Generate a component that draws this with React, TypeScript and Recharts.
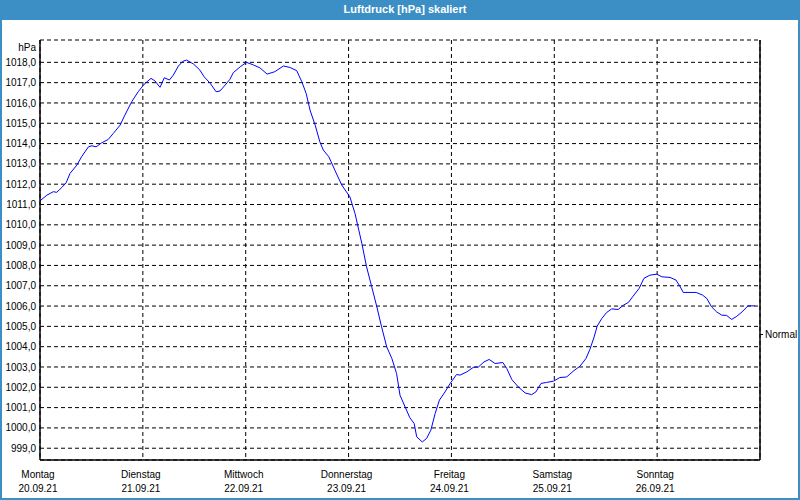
import { LineChart, Line, XAxis, YAxis, CartesianGrid, Label } from 'recharts';

// Stunden seit Montag 00:00 und Luftdruck in hPa
const hours = [
  0, 1.6, 3.1, 3.9, 5.1, 6.1, 7.0, 8.6, 9.7, 11.3, 12.1, 13.1, 14.4, 15.9, 17.1, 18.7, 19.8, 21.4,
  22.9, 24.3, 25.9, 26.8, 28.0, 29.0, 30.2, 31.1, 32.3, 33.4, 34.2, 35.8, 37.3, 38.3, 39.7, 41.1,
  42.0, 43.2, 44.3, 45.1, 46.7, 48.2, 49.8, 51.3, 53.0, 54.8, 56.8, 58.3, 59.9, 61.1, 62.1, 63.0,
  64.2, 65.3, 66.1, 67.4, 68.8, 70.4, 72.3, 73.5, 75.1, 76.2, 77.4, 78.6, 79.7, 80.9, 82.1, 83.2,
  84.0, 85.2, 86.3, 87.3, 87.9, 89.2, 90.2, 91.2, 92.2, 93.2, 94.5, 95.7, 97.2, 98.0, 99.6, 101.1,
  102.3, 103.6, 104.8, 106.2, 108.0, 108.9, 110.1, 111.6, 113.2, 114.7, 115.7, 116.9, 118.2, 119.8,
  121.3, 122.9, 124.4, 126.0, 127.4, 128.3, 129.3, 130.0, 131.1, 132.2, 133.4, 134.9, 136.1, 137.3,
  138.4, 139.8, 140.9, 142.3, 143.9, 145.1, 147.0, 148.4, 149.3, 150.1, 153.1, 154.6, 155.6, 156.7,
  157.9, 159.1, 160.2, 161.4, 162.6, 163.8, 165.2, 166.8,
];
const pressure = [
  1011.18, 1011.46, 1011.63, 1011.6, 1011.84, 1012.07, 1012.53, 1012.94, 1013.35, 1013.84, 1013.89,
  1013.84, 1014.04, 1014.2, 1014.5, 1014.91, 1015.4, 1016.06, 1016.55, 1016.92, 1017.21, 1017.09,
  1016.77, 1017.24, 1017.13, 1017.37, 1017.82, 1018.06, 1018.11, 1017.92, 1017.62, 1017.29, 1016.97,
  1016.55, 1016.59, 1016.88, 1017.16, 1017.49, 1017.78, 1018.0, 1017.87, 1017.73, 1017.42, 1017.54,
  1017.82, 1017.75, 1017.59, 1017.04, 1016.47, 1015.65, 1014.91, 1014.09, 1013.68, 1013.35, 1012.69,
  1011.96, 1011.38, 1010.56, 1009.08, 1007.93, 1006.95, 1005.96, 1004.98, 1003.99, 1003.42, 1002.68,
  1001.61, 1001.03, 1000.5, 1000.22, 999.56, 999.31, 999.48, 999.89, 1000.71, 1001.37, 1001.77,
  1002.19, 1002.63, 1002.6, 1002.76, 1002.98, 1003.0, 1003.25, 1003.37, 1003.17, 1003.22, 1002.93,
  1002.38, 1002.02, 1001.72, 1001.64, 1001.77, 1002.19, 1002.24, 1002.3, 1002.48, 1002.51, 1002.79,
  1003.04, 1003.42, 1003.86, 1004.48, 1005.01, 1005.39, 1005.68, 1005.86, 1005.83, 1006.04, 1006.18,
  1006.49, 1006.87, 1007.36, 1007.52, 1007.57, 1007.44, 1007.41, 1007.28, 1006.98, 1006.67, 1006.67,
  1006.54, 1006.37, 1005.96, 1005.71, 1005.55, 1005.54, 1005.34, 1005.5, 1005.71, 1006.01, 1006.01,
];

const dayTicks = [0, 24, 48, 72, 96, 120, 144];
const dayNames = ['Montag', 'Dienstag', 'Mittwoch', 'Donnerstag', 'Freitag', 'Samstag', 'Sonntag'];
const dayDates = ['20.09.21', '21.09.21', '22.09.21', '23.09.21', '24.09.21', '25.09.21', '26.09.21'];
const yTicks = [999, 1000, 1001, 1002, 1003, 1004, 1005, 1006, 1007, 1008, 1009, 1010, 1011, 1012, 1013, 1014, 1015, 1016, 1017, 1018];
const normalValue = [1004.6];

const data = hours.map((h, i) => ({ h, p: pressure[i] }));

const FONT = '"Liberation Sans", Arial, sans-serif';
const FS = 10;
const BLUE = '#3c8fc4';
const Y_DOMAIN = [998.42, 1019.1];

function DayTick({ x, y, payload }: any) {
  const i = dayTicks.indexOf(payload.value);
  return (
    <g>
      <text x={x - 2} y={y + 14} textAnchor="middle" dominantBaseline="central" fontSize={FS} fontFamily={FONT} fill="#000">
        {dayNames[i]}
      </text>
      <text x={x - 2} y={y + 28} textAnchor="middle" dominantBaseline="central" fontSize={FS} fontFamily={FONT} fill="#000">
        {dayDates[i]}
      </text>
    </g>
  );
}

export default function App() {
  return (
    <div style={{ position: 'absolute', left: 0, top: 0, width: 800, height: 500, background: '#fff' }}>
      <div
        style={{
          position: 'absolute', left: 0, top: 0, width: 800, height: 500, boxSizing: 'border-box',
          border: `2px solid ${BLUE}`,
        }}
      />
      <div
        style={{
          position: 'absolute', left: 0, top: 0, width: 800, height: 20, background: BLUE, color: '#fff',
          fontFamily: FONT, fontWeight: 'bold', fontSize: 11, lineHeight: '19px', textAlign: 'center',
          paddingLeft: 10, boxSizing: 'border-box',
        }}
      >
        Luftdruck [hPa] skaliert
      </div>
      <div style={{ position: 'absolute', left: 0, top: 0 }}>
        <LineChart width={800} height={500} data={data} margin={{ top: 40, right: 0, bottom: 0, left: 0 }}>
          <CartesianGrid yAxisId="left" xAxisId="bottom" stroke="#000" strokeDasharray="4 3" />
          <XAxis
            xAxisId="bottom" dataKey="h" type="number" domain={[0, 168]} ticks={dayTicks} height={40}
            axisLine={{ stroke: '#000', strokeWidth: 1.5 }} tickLine={false} tickSize={0} tickMargin={0} tick={<DayTick />}
            interval={0}
          />
          <XAxis
            xAxisId="top" orientation="top" dataKey="h" type="number" domain={[0, 168]} height={0}
            axisLine={{ stroke: '#000', strokeWidth: 1.5 }} tick={false} tickLine={false}
          />
          <YAxis
            yAxisId="left" type="number" domain={Y_DOMAIN} allowDataOverflow ticks={yTicks} width={40}
            axisLine={{ stroke: '#000', strokeWidth: 1.5 }} tickLine={false} tickSize={4} tickMargin={0} interval={0}
            tick={{ fontSize: FS, fontFamily: FONT, fill: '#000' }}
            tickFormatter={(v: number) => v.toFixed(1).replace('.', ',')}
          >
            <Label value="hPa" position="insideTopRight" offset={4} fontSize={FS} fontFamily={FONT} fill="#000" />
          </YAxis>
          <YAxis
            yAxisId="right" orientation="right" type="number" domain={Y_DOMAIN} allowDataOverflow ticks={normalValue}
            width={40} axisLine={{ stroke: '#000', strokeWidth: 1.5 }} tickLine={{ stroke: '#000' }} tickSize={3}
            tickMargin={2} interval={0} tick={{ fontSize: FS, fontFamily: FONT, fill: '#000' }}
            tickFormatter={() => 'Normal'}
          />
          <Line
            xAxisId="bottom" yAxisId="left" type="linear" dataKey="p" stroke="#0000ff" strokeWidth={1}
            dot={false} isAnimationActive={false}
          />
        </LineChart>
      </div>
    </div>
  );
}
